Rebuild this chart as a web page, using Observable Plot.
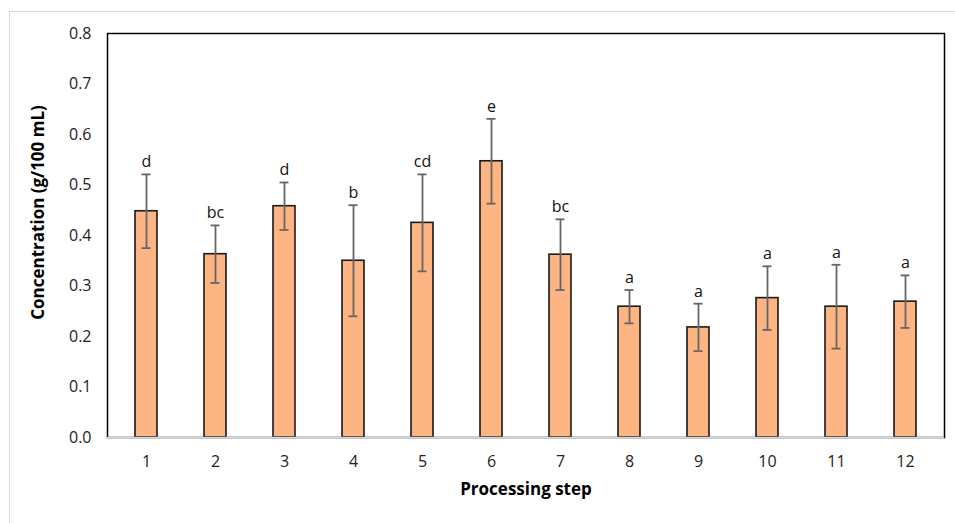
<!DOCTYPE html>
<html>
<head>
<meta charset="utf-8">
<script src="https://cdn.jsdelivr.net/npm/d3@7"></script>
<script src="https://cdn.jsdelivr.net/npm/@observablehq/plot@0.6"></script>
<style>
  html, body { margin: 0; padding: 0; background: #fff; overflow: hidden; }
  #wrap { position: relative; width: 955px; height: 523px; }
  #border { position: absolute; left: 9px; top: 11px; width: 960px; height: 530px; border: 1px solid #d9d9d9; pointer-events: none; }
</style>
</head>
<body>
<div id="wrap"><div id="border"></div></div>
<script>
const steps = ["1","2","3","4","5","6","7","8","9","10","11","12"];
const means = [0.448, 0.363, 0.458, 0.350, 0.425, 0.547, 0.362, 0.259, 0.218, 0.276, 0.259, 0.269];
const errs  = [0.073, 0.057, 0.047, 0.110, 0.096, 0.084, 0.070, 0.033, 0.047, 0.063, 0.083, 0.052];
const letters = ["d","bc","d","b","cd","e","bc","a","a","a","a","a"];
const yTicks = [0, 0.1, 0.2, 0.3, 0.4, 0.5, 0.6, 0.7, 0.8];

const data = steps.map((s, i) => ({step: s, mean: means[i], lo: means[i] - errs[i], hi: means[i] + errs[i], letter: letters[i]}));

const font = "'Open Sans', sans-serif";
const chart = Plot.plot({
  width: 955,
  height: 523,
  marginLeft: 107,
  marginTop: 33,
  marginRight: 11,
  marginBottom: 86,
  style: {fontFamily: font, fontSize: "16px", color: "#222", background: "transparent"},
  x: {domain: steps, paddingInner: 0.685, paddingOuter: 0.3425},
  y: {domain: [0, 0.8]},
  marks: [
    Plot.axisX({ticks: steps, tickSize: 0, tickPadding: 18, label: null, fontSize: 16, fill: "#222"}),
    Plot.axisY({ticks: yTicks, tickFormat: ".1f", tickSize: 0, tickPadding: 16, label: null, fontSize: 16, fill: "#222"}),
    Plot.barY(data, {x: "step", y: "mean", fill: "#FBB482", stroke: "#1a1a1a", strokeWidth: 1.6}),
    Plot.ruleX(data, {x: "step", y1: "lo", y2: "hi", stroke: "#666", strokeWidth: 1.8}),
    Plot.tickY(data, {x: "step", y: "lo", stroke: "#666", strokeWidth: 1.8, insetLeft: 6.5, insetRight: 6.5}),
    Plot.tickY(data, {x: "step", y: "hi", stroke: "#666", strokeWidth: 1.8, insetLeft: 6.5, insetRight: 6.5}),
    Plot.text(data, {x: "step", y: "hi", text: "letter", dy: -7, lineAnchor: "bottom", fill: "#111", fontSize: 16}),
    Plot.frame({stroke: "#000", strokeWidth: 1.5}),
    Plot.ruleY([0], {stroke: "#d9d9d9", strokeWidth: 1.6}),
    Plot.text(["Processing step"], {frameAnchor: "bottom", dy: 52, lineAnchor: "middle", fontWeight: "bold", fontSize: 17, fill: "#000"}),
    Plot.text(["Concentration (g/100 mL)"], {frameAnchor: "left", dx: -69, dy: -23, rotate: -90, lineAnchor: "middle", textAnchor: "middle", fontWeight: "bold", fontSize: 17, fill: "#000"})
  ]
});
document.getElementById("wrap").appendChild(chart);
chart.style.position = "absolute";
chart.style.left = "0";
chart.style.top = "0";
</script>
</body>
</html>
